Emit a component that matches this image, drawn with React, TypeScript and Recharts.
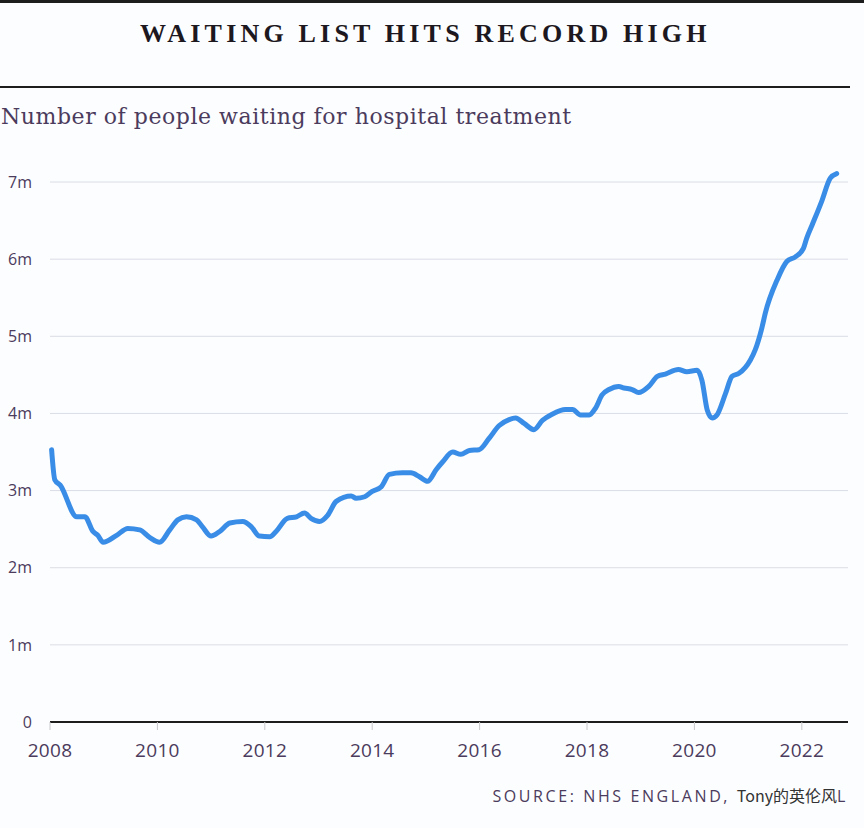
import { LineChart, Line, XAxis, YAxis, CartesianGrid } from "recharts";

// decimal year of each reading, and people waiting (millions)
const years = [
  2008.03, 2008.09, 2008.19, 2008.5, 2008.65, 2008.8, 2008.89, 2008.99, 2009.24, 2009.45,
  2009.67, 2009.86, 2010.04, 2010.23, 2010.38, 2010.54, 2010.73, 2010.84, 2011.0, 2011.16,
  2011.35, 2011.59, 2011.75, 2011.9, 2012.09, 2012.21, 2012.42, 2012.59, 2012.74, 2012.86,
  2013.02, 2013.17, 2013.33, 2013.61, 2013.7, 2013.86, 2014.0, 2014.17, 2014.32, 2014.56,
  2014.72, 2014.88, 2015.03, 2015.19, 2015.31, 2015.5, 2015.65, 2015.81, 2015.99, 2016.18,
  2016.36, 2016.55, 2016.67, 2016.83, 2017.01, 2017.17, 2017.35, 2017.6, 2017.73, 2017.88,
  2018.04, 2018.16, 2018.28, 2018.41, 2018.59, 2018.69, 2018.84, 2018.96, 2019.15, 2019.31,
  2019.46, 2019.7, 2019.86, 2020.05, 2020.14, 2020.24, 2020.33, 2020.42, 2020.58, 2020.7,
  2020.83, 2021.04, 2021.13, 2021.26, 2021.32, 2021.54, 2021.72, 2021.88, 2022.03, 2022.09,
  2022.19, 2022.37, 2022.53, 2022.65,
];

const waiting = [
  3.53, 3.14, 3.07, 2.66, 2.66, 2.47, 2.42, 2.33, 2.42, 2.51,
  2.49, 2.39, 2.33, 2.49, 2.62, 2.66, 2.62, 2.53, 2.41, 2.47,
  2.58, 2.6, 2.53, 2.41, 2.4, 2.47, 2.64, 2.66, 2.71, 2.64,
  2.6, 2.68, 2.86, 2.93, 2.9, 2.92, 2.99, 3.05, 3.21, 3.23,
  3.23, 3.18, 3.12, 3.27, 3.37, 3.5, 3.47, 3.52, 3.53, 3.68,
  3.84, 3.92, 3.94, 3.87, 3.79, 3.91, 3.99, 4.05, 4.05, 3.98,
  3.98, 4.07, 4.24, 4.31, 4.35, 4.33, 4.31, 4.27, 4.35, 4.48,
  4.51, 4.57, 4.54, 4.56, 4.43, 4.04, 3.94, 3.98, 4.26, 4.48,
  4.52, 4.69, 4.82, 5.12, 5.3, 5.73, 5.97, 6.03, 6.14, 6.27,
  6.44, 6.75, 7.05, 7.11,
];

const xTicks = [2008, 2010, 2012, 2014, 2016, 2018, 2020, 2022];
const yTicks = [0, 1, 2, 3, 4, 5, 6, 7];

const data = years.map((year, i) => ({ year, waiting: waiting[i] }));

const purple = "#4b3b5c";

export default function App() {
  return (
    <div
      style={{
        position: "absolute",
        left: 0,
        top: 0,
        width: 864,
        height: 828,
        background: "#fcfdff",
        overflow: "hidden",
      }}
    >
      <div style={{ position: "absolute", left: 0, top: 0, width: 864, height: 3, background: "#1d1d1d" }} />
      <div
        style={{
          position: "absolute",
          left: 140,
          top: 19,
          whiteSpace: "nowrap",
          fontFamily: "'Liberation Serif', serif",
          fontWeight: "bold",
          fontSize: 26,
          letterSpacing: 4.2,
          color: "#1d1820",
        }}
      >
        WAITING LIST HITS RECORD HIGH
      </div>
      <div style={{ position: "absolute", left: 0, top: 86, width: 850, height: 2, background: "#1d1d1d" }} />
      <div
        style={{
          position: "absolute",
          left: 1,
          top: 104,
          whiteSpace: "nowrap",
          fontFamily: "'DejaVu Serif', serif",
          fontSize: 22,
          letterSpacing: 0.55,
          color: purple,
        }}
      >
        Number of people waiting for hospital treatment
      </div>

      <div style={{ position: "absolute", left: 0, top: 0 }}>
        <LineChart
          width={864}
          height={828}
          data={data}
          margin={{ top: 166.6, right: 16, bottom: 66, left: 0 }}
        >
          <CartesianGrid vertical={false} horizontalValues={yTicks} stroke="#dadde5" strokeWidth={1} />
          <XAxis
            dataKey="year"
            type="number"
            domain={[2008, 2022.86]}
            ticks={xTicks}
            height={40}
            axisLine={{ stroke: "#1d1d1d", strokeWidth: 2 }}
            tickLine={{ stroke: "#c8c8cc" }}
            tickSize={8}
            tickMargin={14}
            tick={{ fill: purple, fontSize: 19, fontFamily: "'Open Sans', sans-serif", letterSpacing: 0.3 }}
          />
          <YAxis
            type="number"
            domain={[0, 7.2]}
            ticks={yTicks}
            width={50}
            axisLine={false}
            tickLine={false}
            tickMargin={12}
            tickFormatter={(v: number) => (v === 0 ? "0" : `${v}m`)}
            tick={{ fill: purple, fontSize: 16, fontFamily: "'Open Sans', sans-serif" }}
          />
          <Line
            type="monotone"
            dataKey="waiting"
            stroke="#3a8de6"
            strokeWidth={5}
            dot={false}
            strokeLinecap="round"
            strokeLinejoin="round"
            isAnimationActive={false}
          />
        </LineChart>
      </div>

      <div
        style={{
          position: "absolute",
          right: 16,
          top: 783,
          fontFamily: "'Open Sans', sans-serif",
          fontSize: 16,
          letterSpacing: 2.6,
          color: purple,
          whiteSpace: "nowrap",
        }}
      >
        SOURCE: NHS ENGLAND, <span style={{ color: "#333", letterSpacing: 0, fontFamily: "'Noto Sans CJK SC', sans-serif" }}>Tony的英伦风</span>L
      </div>
    </div>
  );
}
